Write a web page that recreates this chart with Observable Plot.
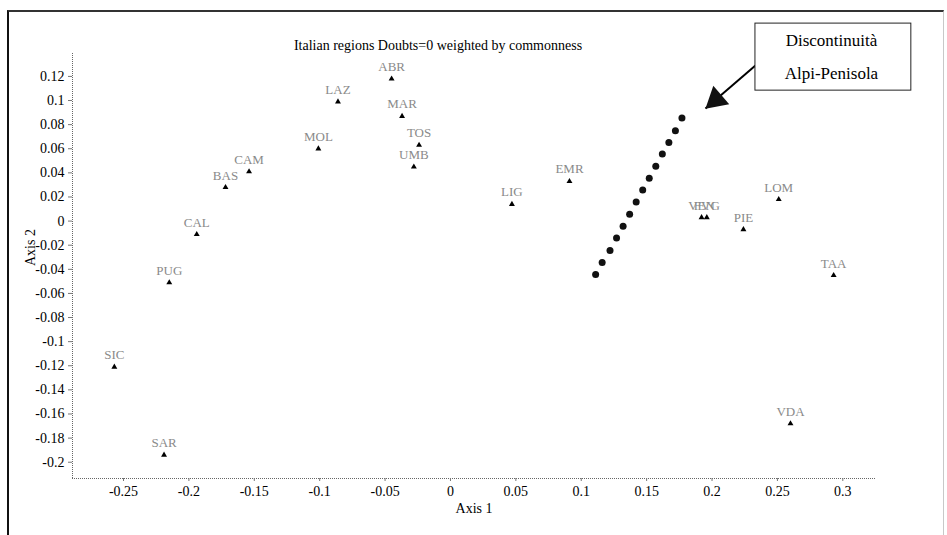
<!DOCTYPE html>
<html><head><meta charset="utf-8">
<script src="https://cdn.jsdelivr.net/npm/d3@7"></script>
<script src="https://cdn.jsdelivr.net/npm/@observablehq/plot@0.6"></script>
<style>
html,body{margin:0;padding:0;background:#fff;}
#wrap{position:relative;width:947px;height:535px;overflow:hidden;background:#fff;}
#frame{position:absolute;left:7px;top:10px;width:937px;height:560px;border-left:2px solid #111;border-top:2px solid #333;border-right:1px solid #c8c8c8;box-sizing:border-box;pointer-events:none;}
g[aria-label="x-axis tick"] path, g[aria-label="y-axis tick"] path{stroke:#777;}
</style></head><body>
<div id="wrap"><div id="chart"></div><div id="frame"></div></div>
<script>
// Region labels and their coordinates on the two axes
const regions = ["ABR","LAZ","MAR","TOS","UMB","MOL","CAM","BAS","CAL","PUG","SIC","SAR","LIG","EMR","VEN","FVG","PIE","LOM","TAA","VDA"];
const axis1Values = [-0.045,-0.086,-0.037,-0.024,-0.028,-0.101,-0.154,-0.172,-0.194,-0.215,-0.257,-0.219,0.047,0.091,0.192,0.196,0.224,0.251,0.293,0.260];
const axis2Values = [0.118,0.099,0.087,0.063,0.045,0.060,0.041,0.028,-0.011,-0.051,-0.121,-0.194,0.014,0.033,0.003,0.003,-0.007,0.018,-0.045,-0.168];

// Discontinuity dotted line (points)
const discX = [0.177,0.172,0.167,0.162,0.157,0.152,0.147,0.142,0.137,0.132,0.127,0.122,0.116,0.111];
const discY = [0.0856,0.0750,0.0651,0.0556,0.0454,0.0355,0.0258,0.0159,0.0056,-0.0043,-0.0140,-0.0243,-0.0343,-0.0443];

// Tick values
const xTicks = [-0.25,-0.2,-0.15,-0.1,-0.05,0,0.05,0.1,0.15,0.2,0.25,0.3];
const yTicks = [0.12,0.1,0.08,0.06,0.04,0.02,0,-0.02,-0.04,-0.06,-0.08,-0.1,-0.12,-0.14,-0.16,-0.18,-0.2];
const xDomain = [-0.289, 0.325];
const yDomain = [-0.2135, 0.139];

// Texts
const titleText = "Italian regions Doubts=0 weighted by commonness";
const xLabel = "Axis 1";
const yLabel = "Axis 2";

// Annotation (in data coordinates)
const noteLines = ["Discontinuità", "Alpi-Penisola"];
const noteLineY = [0.1497, 0.1223];
const noteX = 0.2913;
const noteBox = {x1: 0.2332, x2: 0.3524, y1: 0.1082, y2: 0.1638};
const arrowFrom = {x: 0.2332, y: 0.129};
const arrowTo = {x: 0.195, y: 0.0933};

const points = regions.map((name, i) => ({name, a1: axis1Values[i], a2: axis2Values[i]}));
const disc = discX.map((x, i) => ({x, y: discY[i]}));
const notes = noteLines.map((t, i) => ({t, x: noteX, y: noteLineY[i]}));
const fmt = d => String(+d.toFixed(2));

const chart = Plot.plot({
  width: 947, height: 535,
  marginLeft: 72, marginRight: 72, marginTop: 53, marginBottom: 57,
  x: {domain: xDomain},
  y: {domain: yDomain},
  style: {fontFamily: "'Liberation Serif', 'Times New Roman', serif", fontSize: "14px", color: "#000", background: "transparent"},
  marks: [
    Plot.ruleX([xDomain[0]], {stroke: "#666", strokeDasharray: "1,1"}),
    Plot.ruleY([yDomain[0]], {stroke: "#666", strokeDasharray: "1,1"}),
    Plot.axisX({ticks: xTicks, tickFormat: fmt, tickSize: 3, tickPadding: 5, label: null, fontSize: 14}),
    Plot.axisY({ticks: yTicks, tickFormat: fmt, tickSize: 4, tickPadding: 4, label: null, fontSize: 14}),
    Plot.text([titleText], {text: d => d, frameAnchor: "top", dx: -36, dy: -13, fontSize: 14}),
    Plot.text([xLabel], {text: d => d, frameAnchor: "bottom", dy: 34, fontSize: 14}),
    Plot.text([yLabel], {text: d => d, frameAnchor: "left", dx: -42, rotate: -90, fontSize: 14}),
    Plot.text(points, {x: "a1", y: "a2", text: "name", dy: -12, fill: "#8a8a8a", fontSize: 13}),
    Plot.dot(points, {x: "a1", y: "a2", symbol: "triangle", r: 2.2, fill: "#000", stroke: "none"}),
    Plot.dot(disc, {x: "x", y: "y", r: 3.5, fill: "#111", stroke: "none"}),
    Plot.link([0], {x1: () => arrowFrom.x, y1: () => arrowFrom.y, x2: () => arrowTo.x, y2: () => arrowTo.y, stroke: "#000", strokeWidth: 2}),
    Plot.dot([arrowTo], {x: "x", y: "y", symbol: "triangle", r: 9, rotate: 229, dx: 10.5, dy: -9, fill: "#111", stroke: "none"}),
    Plot.rect([noteBox], {x1: "x1", x2: "x2", y1: "y1", y2: "y2", fill: "#fff", stroke: "#222", strokeWidth: 1}),
    Plot.text(notes, {x: "x", y: "y", text: "t", fontSize: 17})
  ]
});
document.getElementById("chart").appendChild(chart);
</script>
</body></html>
